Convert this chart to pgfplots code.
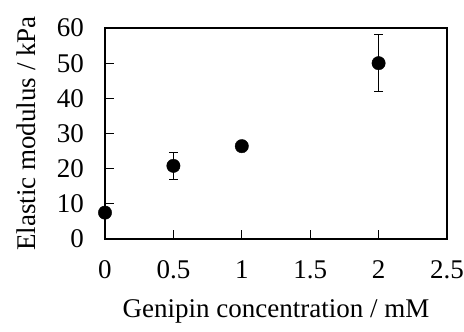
\documentclass[border=0pt]{standalone}
\usepackage{fontspec}
\setmainfont{Liberation Serif}
\usepackage{pgfplots}
\pgfplotsset{compat=1.18}
\begin{document}
\fontsize{27}{32}\selectfont
\begin{tikzpicture}
\begin{axis}[
  scale only axis,
  width=342pt, height=211pt,
  xmin=0, xmax=2.5, ymin=0, ymax=60,
  xtick={0,0.5,1,1.5,2,2.5},
  xticklabels={0,0.5,1,1.5,2,2.5},
  ytick={0,10,20,30,40,50,60},
  tick align=inside,
  xtick pos=bottom, ytick pos=left,
  major tick length=9pt,
  every tick/.style={black, line width=1.3pt},
  axis line style={line width=2pt},
  /pgf/number format/assume math mode=true,
  ticklabel style={font=\fontsize{27}{32}\selectfont, inner sep=0pt},
  xticklabel style={yshift=-21pt},
  yticklabel style={xshift=-21pt},
  xlabel={Genipin concentration / mM},
  ylabel={Elastic modulus / kPa},
  xlabel style={font=\fontsize{27}{32}\selectfont, at={(axis description cs:0.5,-0.37)}, anchor=base},
  ylabel style={font=\fontsize{27}{32}\selectfont, at={(axis description cs:-0.231,0.5)}, anchor=center},
  clip=false,
]
\addplot[only marks, mark=*, mark size=6.7pt, black,
  error bars/.cd, y dir=both, y explicit,
  error bar style={line width=1pt, black},
  error mark options={line width=1pt, mark size=4.5pt, rotate=90}]
  coordinates {
  (0,7.5) +- (0,0)
  (0.5,20.8) +- (0,3.9)
  (1,26.4) +- (0,0)
  (2,50.0) +- (0,8.1)
  };
\path (rel axis cs:0,0) ++(-105pt,-84pt) rectangle ++(464pt,323pt);
\end{axis}
\end{tikzpicture}
\end{document}
